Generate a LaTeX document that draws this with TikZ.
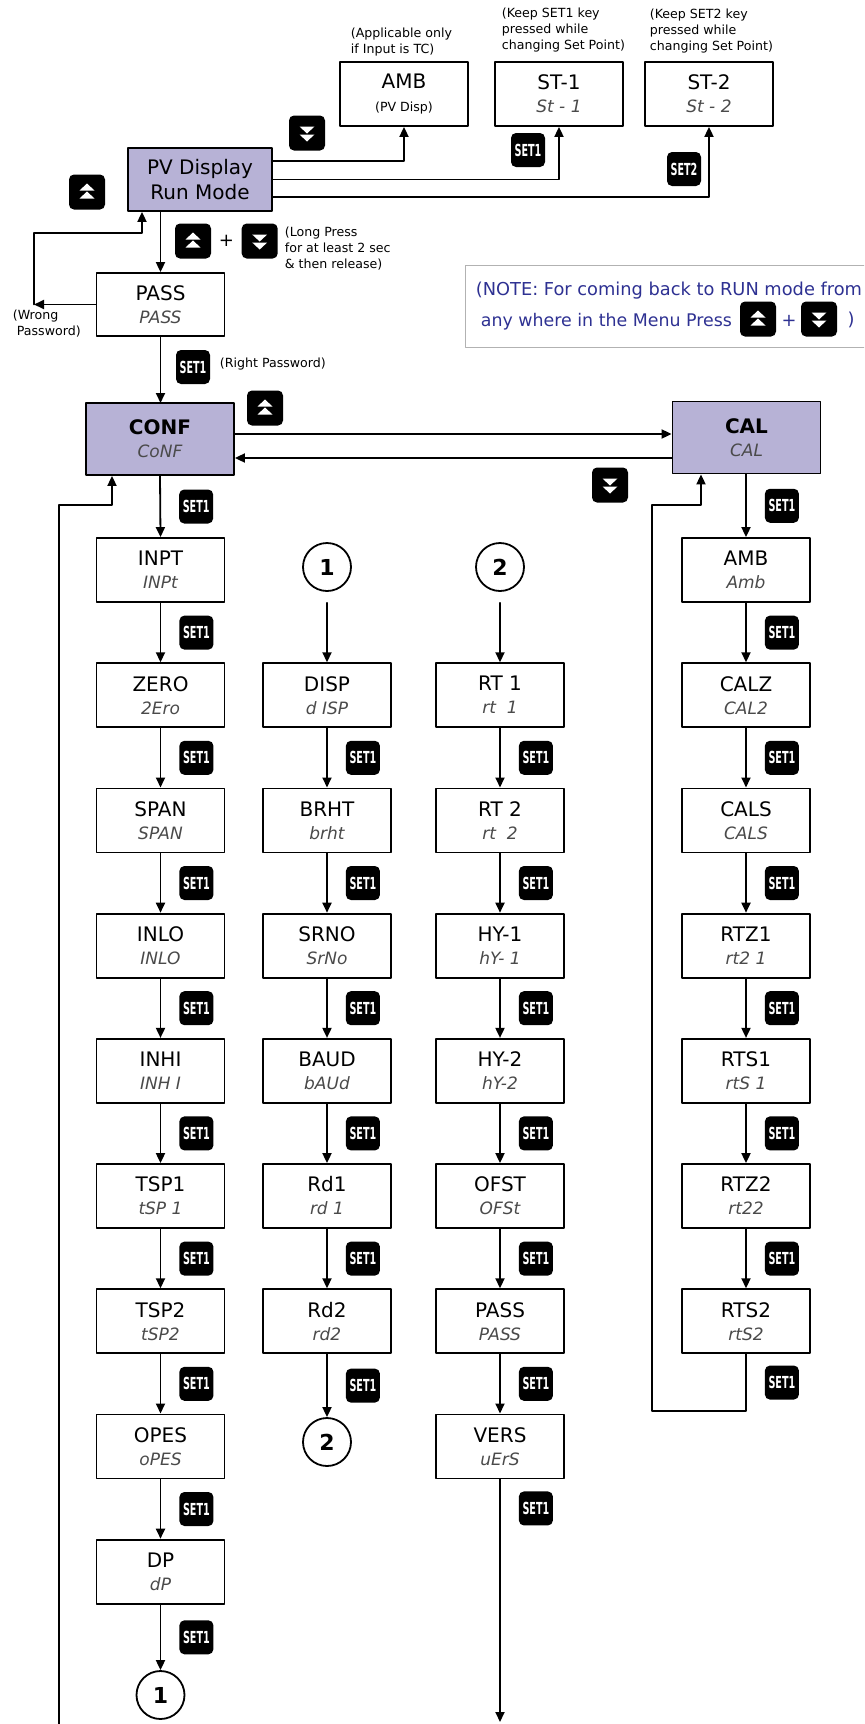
\documentclass[tikz,border=0pt]{standalone}
\usepackage{fontspec}
\setmainfont{DejaVu Sans}
\newfontfamily\keyfont{DejaVu Sans}[FakeStretch=0.58]
\usetikzlibrary{arrows.meta,positioning}
\definecolor{lav}{HTML}{B7B2D6}
\definecolor{notec}{HTML}{2E3192}
\definecolor{segc}{HTML}{4A4A4A}
\newcommand{\segtxt}[1]{{\fontsize{8.5}{10}\selectfont\itshape\color{segc}#1}}
\tikzset{
	menubox/.style={draw,line width=.9pt,fill=white,minimum width=64pt,minimum height=32pt,inner sep=0pt,align=center,font=\fontsize{10}{11.5}\selectfont},
	headbox/.style={menubox,fill=lav,minimum width=74pt,minimum height=36pt},
	setkey/.style={fill=black,rounded corners=2.5pt,minimum width=17pt,minimum height=17pt,inner sep=0pt,text=white,font=\keyfont\bfseries\fontsize{8.3}{8.3}\selectfont},
	upkey/.style={fill=black,rounded corners=2.5pt,minimum width=18pt,minimum height=17.5pt,inner sep=0pt,
		path picture={\fill[white,sharp corners] ([yshift=4.25pt]path picture bounding box.center)--++(7.5,7)--++(-15,0)--cycle;
			\fill[white,sharp corners] ([yshift=.25pt]path picture bounding box.center)--++(7.5,7)--++(-15,0)--cycle;}},
	downkey/.style={upkey,
		path picture={\fill[white,sharp corners] ([yshift=-4.25pt]path picture bounding box.center)--++(7.5,-7)--++(-15,0)--cycle;
			\fill[white,sharp corners] ([yshift=-.25pt]path picture bounding box.center)--++(7.5,-7)--++(-15,0)--cycle;}},
	jumper/.style={circle,draw,line width=.9pt,minimum size=24pt,inner sep=0pt,font=\bfseries\fontsize{11}{11}\selectfont},
	remark/.style={inner sep=0pt,align=left,font=\fontsize{6.3}{8}\selectfont},
	notetxt/.style={inner sep=0pt,text=notec,font=\fontsize{8.9}{10}\selectfont}
}
\begin{document}
\begin{tikzpicture}[>={Triangle[length=5pt,width=4.5pt]},line join=round,line cap=round,x=.5pt,y=-.5pt,line width=.9pt]
	\clip (0,0) rectangle (864,1724);
	% run mode and set points
	\node[menubox,fill=lav,minimum width=72pt,minimum height=31.5pt,font=\fontsize{10}{12.5}\selectfont] (PV)at(200,179.5) {PV Display\\Run Mode};
	\node[menubox] (AMBt)at(404,94) {AMB\\{\fontsize{6.3}{7}\selectfont(PV Disp)}};
	\node[menubox] (ST1)at(559,94) {ST-1\\\segtxt{St - 1}};
	\node[menubox] (ST2)at(709,94) {ST-2\\\segtxt{St - 2}};
	\node[remark,anchor=west] (rAMB)at(350,42) {(Applicable only\\if Input is TC)};
	\node[remark,anchor=west] (rST1)at(501,30) {(Keep SET1 key\\pressed while\\changing Set Point)};
	\node[remark,anchor=west] (rST2)at(649,31) {(Keep SET2 key\\pressed while\\changing Set Point)};
	\draw[->] ([yshift=9.25pt]PV.east) -| (AMBt.south);
	\draw[->] (PV.east) -| (ST1.south);
	\draw[->] ([yshift=-8.75pt]PV.east) -| (ST2.south);
	\node[downkey] (dkA)at(307,133) {};
	\node[setkey] (kST1)at(528,150) {SET1};
	\node[setkey] (kST2)at(684,169) {SET2};
	\node[upkey] (ukA)at(87,192) {};
	% password
	\node[menubox,minimum height=31.5pt] (PASSa)at(160.5,304.5) {PASS\\\segtxt{PASS}};
	\draw[->] (PV.south-|PASSa.north) -- (PASSa.north);
	\node[upkey] (ukB)at(193,241) {};
	\node[inner sep=0pt,font=\fontsize{9}{9}\selectfont] (plB)[right=3pt of ukB] {+};
	\node[downkey] (dkB)[right=3pt of plB] {};
	\node[remark,anchor=west] (rLong)at(284,249) {(Long Press\\for at least 2 sec\\\& then release)};
	\coordinate (wp)at(34,304.5);
	\coordinate (wq)at(142,233);
	\draw[->] (PASSa.west) -- (wp);
	\draw[->] (wp) |- (wq) -- (wq|-PV.south);
	\node[remark,anchor=north west] (rWrong)at(12,309) {(Wrong\\\ Password)};
	\node[setkey] (kPASS)at(193,367) {SET1};
	\node[remark,anchor=west] (rRight)at(219,364) {(Right Password)};
	% note
	\node[draw=gray!60,line width=.6pt,minimum width=210pt,minimum height=41pt,anchor=north west] (note)at(465,265) {};
	\node[notetxt,anchor=base west] (noteA)at(475,295) {(NOTE: For coming back to RUN mode from};
	\node[notetxt,anchor=base west,font=\fontsize{8.7}{10}\selectfont] (noteB)at(480,326) {any where in the Menu Press};
	\node[upkey] (ukD)at(758,319) {};
	\node[notetxt] (plD)at(789,321) {+};
	\node[downkey] (dkD)at(819,319) {};
	\node[notetxt] (clD)at(851,320) {)};
	% conf and cal
	\draw[->] (PASSa.south) -- (PASSa.south|-0,403);
	\node[headbox] (CONF)at(160,439) {\textbf{CONF}\\\segtxt{CoNF}};
	\node[headbox] (CAL)at(746.5,437.5) {\textbf{CAL}\\\segtxt{CAL}};
	\coordinate (cc1)at(0,434);
	\coordinate (cc2)at(0,458);
	\draw[->] (CONF.east|-cc1) -- (CAL.west|-cc1);
	\draw[->] (CAL.west|-cc2) -- (CONF.east|-cc2);
	\node[upkey] (ukC)at(265,408) {};
	\node[downkey] (dkC)at(610,485) {};
	% column 1
	\node[menubox] (INPT)at(160.5,570) {INPT\\\segtxt{INPt}};
	\node[menubox] (ZERO)at(160.5,695.2) {ZERO\\\segtxt{2Ero}};
	\node[menubox] (SPAN)at(160.5,820.4) {SPAN\\\segtxt{SPAN}};
	\node[menubox] (INLO)at(160.5,945.6) {INLO\\\segtxt{INLO}};
	\node[menubox] (INHI)at(160.5,1070.8) {INHI\\\segtxt{INH I}};
	\node[menubox] (TSP1)at(160.5,1196) {TSP1\\\segtxt{tSP 1}};
	\node[menubox] (TSP2)at(160.5,1321.2) {TSP2\\\segtxt{tSP2}};
	\node[menubox] (OPES)at(160.5,1446.4) {OPES\\\segtxt{oPES}};
	\node[menubox] (DP)at(160.5,1571.6) {DP\\\segtxt{dP}};
	\node[jumper] (jmpB)at(160.5,1695) {1};
	\draw[->] (CONF.south) -- node[setkey,right=9pt] (k11) {SET1} (INPT.north);
	\draw[->] (INPT) -- node[setkey,right=9pt] (k12) {SET1} (ZERO);
	\draw[->] (ZERO) -- node[setkey,right=9pt] (k13) {SET1} (SPAN);
	\draw[->] (SPAN) -- node[setkey,right=9pt] (k14) {SET1} (INLO);
	\draw[->] (INLO) -- node[setkey,right=9pt] (k15) {SET1} (INHI);
	\draw[->] (INHI) -- node[setkey,right=9pt] (k16) {SET1} (TSP1);
	\draw[->] (TSP1) -- node[setkey,right=9pt] (k17) {SET1} (TSP2);
	\draw[->] (TSP2) -- node[setkey,right=9pt] (k18) {SET1} (OPES);
	\draw[->] (OPES) -- node[setkey,right=9pt] (k19) {SET1} (DP);
	\draw[->] (DP) -- node[setkey,right=9pt] (k1a) {SET1} (jmpB);
	\coordinate (lpA)at(59,1730);
	\coordinate (lpB)at(112,505);
	\draw[->] (lpA) |- (lpB) -- (lpB|-CONF.south);
	% column 2
	\node[jumper] (jmpA)at(327,567) {1};
	\node[menubox] (DISP)at(327,695.2) {DISP\\\segtxt{d ISP}};
	\node[menubox] (BRHT)at(327,820.4) {BRHT\\\segtxt{brht}};
	\node[menubox] (SRNO)at(327,945.6) {SRNO\\\segtxt{SrNo}};
	\node[menubox] (BAUD)at(327,1070.8) {BAUD\\\segtxt{bAUd}};
	\node[menubox] (Rda)at(327,1196) {Rd1\\\segtxt{rd 1}};
	\node[menubox] (Rdb)at(327,1321.2) {Rd2\\\segtxt{rd2}};
	\node[jumper] (jmpC)at(327,1442) {2};
	\draw[->,shorten <=5.5pt] (jmpA) -- (DISP);
	\draw[->] (DISP) -- node[setkey,right=9pt] (k21) {SET1} (BRHT);
	\draw[->] (BRHT) -- node[setkey,right=9pt] (k22) {SET1} (SRNO);
	\draw[->] (SRNO) -- node[setkey,right=9pt] (k23) {SET1} (BAUD);
	\draw[->] (BAUD) -- node[setkey,right=9pt] (k24) {SET1} (Rda);
	\draw[->] (Rda) -- node[setkey,right=9pt] (k25) {SET1} (Rdb);
	\draw[->] (Rdb) -- node[setkey,right=9pt] (k26) {SET1} (jmpC);
	% column 3
	\node[jumper] (jmpD)at(500,567) {2};
	\node[menubox] (RTa)at(500,695.2) {RT 1\\\segtxt{rt\ \ 1}};
	\node[menubox] (RTb)at(500,820.4) {RT 2\\\segtxt{rt\ \ 2}};
	\node[menubox] (HYa)at(500,945.6) {HY-1\\\segtxt{hY- 1}};
	\node[menubox] (HYb)at(500,1070.8) {HY-2\\\segtxt{hY-2}};
	\node[menubox] (OFST)at(500,1196) {OFST\\\segtxt{OFSt}};
	\node[menubox] (PASSb)at(500,1321.2) {PASS\\\segtxt{PASS}};
	\node[menubox] (VERS)at(500,1446.4) {VERS\\\segtxt{uErS}};
	\coordinate (vend)at(500,1722);
	\draw[->,shorten <=5.5pt] (jmpD) -- (RTa);
	\draw[->] (RTa) -- node[setkey,right=9pt] (k31) {SET1} (RTb);
	\draw[->] (RTb) -- node[setkey,right=9pt] (k32) {SET1} (HYa);
	\draw[->] (HYa) -- node[setkey,right=9pt] (k33) {SET1} (HYb);
	\draw[->] (HYb) -- node[setkey,right=9pt] (k34) {SET1} (OFST);
	\draw[->] (OFST) -- node[setkey,right=9pt] (k35) {SET1} (PASSb);
	\draw[->] (PASSb) -- node[setkey,right=9pt] (k36) {SET1} (VERS);
	\draw[->] (VERS) -- node[setkey,right=9pt,pos=.12] (k37) {SET1} (vend);
	% column 4
	\node[menubox] (AMB)at(746,570) {AMB\\\segtxt{Amb}};
	\node[menubox] (CALZ)at(746,695.2) {CALZ\\\segtxt{CAL2}};
	\node[menubox] (CALS)at(746,820.4) {CALS\\\segtxt{CALS}};
	\node[menubox] (RTZa)at(746,945.6) {RTZ1\\\segtxt{rt2 1}};
	\node[menubox] (RTSa)at(746,1070.8) {RTS1\\\segtxt{rtS 1}};
	\node[menubox] (RTZb)at(746,1196) {RTZ2\\\segtxt{rt22}};
	\node[menubox] (RTSb)at(746,1321.2) {RTS2\\\segtxt{rtS2}};
	\draw[->] (CAL.south-|AMB.north) -- node[setkey,right=9pt] (k41) {SET1} (AMB.north);
	\draw[->] (AMB) -- node[setkey,right=9pt] (k42) {SET1} (CALZ);
	\draw[->] (CALZ) -- node[setkey,right=9pt] (k43) {SET1} (CALS);
	\draw[->] (CALS) -- node[setkey,right=9pt] (k44) {SET1} (RTZa);
	\draw[->] (RTZa) -- node[setkey,right=9pt] (k45) {SET1} (RTSa);
	\draw[->] (RTSa) -- node[setkey,right=9pt] (k46) {SET1} (RTZb);
	\draw[->] (RTZb) -- node[setkey,right=9pt] (k47) {SET1} (RTSb);
	\coordinate (clA)at(652,1411);
	\coordinate (clB)at(701,505);
	\draw[->] (RTSb.south) -- node[setkey,right=9pt] (k48) {SET1} (RTSb.south|-clA) -- (clA) |- (clB) -- (clB|-CAL.south);
\end{tikzpicture}
\end{document}
